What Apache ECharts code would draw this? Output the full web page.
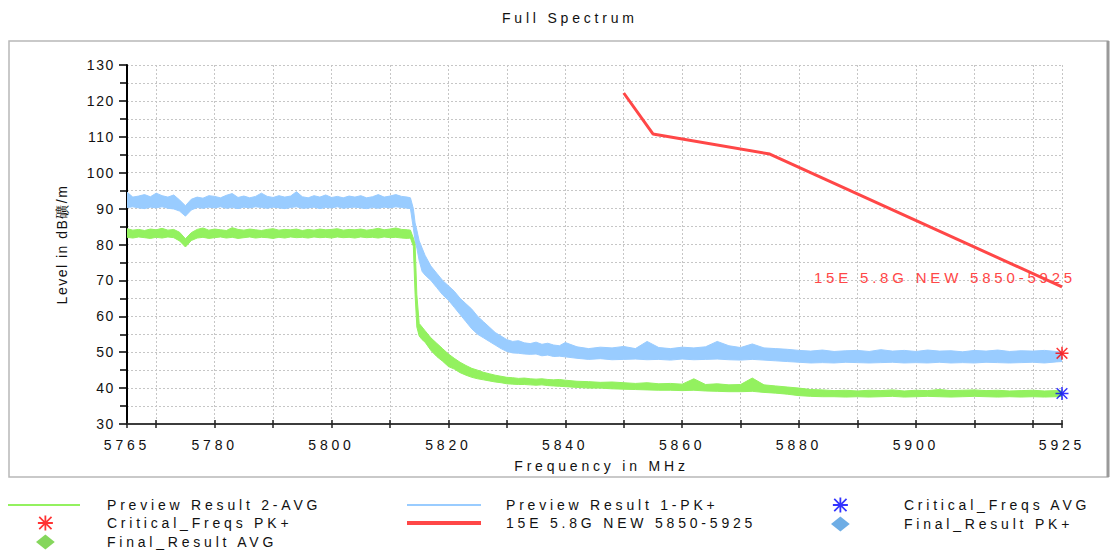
<!DOCTYPE html>
<html>
<head>
<meta charset="utf-8">
<script src="https://cdn.jsdelivr.net/npm/echarts@6/dist/echarts.min.js"></script>
<style>
  html, body { margin: 0; padding: 0; background: #fff; }
  #chart { width: 1110px; height: 554px; }
  #chart text[style*="Arial"] { letter-spacing: 3.8px; }
  #chart text[style*="Helvetica"] { letter-spacing: 1.6px; }
  #chart text[style*="sans-serif"] { letter-spacing: 1.5px; }
</style>
</head>
<body>
<div id="chart"></div>
<script>
// ---------- data ----------
const freqMHz = [
  5765,5766,5767,5768,5769,5770,5771,5772,5773,5774,5775,5776,5777,5778,5779,5780,5781,5782,5783,5784,
  5785,5786,5787,5788,5789,5790,5791,5792,5793,5794,5795,5796,5797,5798,5799,5800,5801,5802,5803,5804,
  5805,5806,5807,5808,5809,5810,5811,5812,5813,
  5813.5,5814,5814.3,5814.6,5815,5815.5,
  5816,5817,5818,5819,5820,5821,5822,5823,5824,5825,5826,5827,5828,5829,5830,5831,5832,5833,5834,5835,
  5836,5837,5838,5839,5840,
  5842,5844,5846,5848,5850,5852,5854,5856,5858,5860,5862,5864,5866,5868,5870,5872,5874,5876,5878,5880,
  5882,5884,5886,5888,5890,5892,5894,5896,5898,5900,5902,5904,5906,5908,5910,5912,5914,5916,5918,5920,
  5922,5924,5925
];

// Preview Result 1-PK+ : upper / lower edge of the trace band (dB)
const pkUpper = [
  94.6,93.2,93.5,93.9,93.3,94.3,93.6,93.2,93.8,92.4,90.8,92.6,93.2,92.9,93.6,93.4,93.0,93.7,94.2,93.1,
  93.5,93.0,93.4,94.3,93.4,93.1,93.6,93.2,93.5,94.7,93.3,93.0,93.6,93.2,93.8,93.1,93.4,93.0,93.5,93.2,
  93.6,93.0,93.3,93.9,93.2,93.5,93.9,93.4,93.2,
  93.0,90.0,86.0,84.0,81.0,79.0,
  77.0,74.0,72.0,70.0,68.5,67.0,65.0,63.5,62.0,60.0,58.5,57.0,55.5,54.5,53.5,53.0,53.2,52.6,52.4,52.8,
  52.2,52.5,52.0,51.8,52.7,
  51.5,51.0,51.4,51.2,51.6,51.0,53.0,51.3,51.0,51.4,51.2,51.5,53.0,51.8,51.3,52.3,51.2,51.0,50.8,50.5,
  50.3,50.6,50.2,50.4,50.5,50.2,50.7,50.3,50.5,50.2,50.6,50.3,50.4,50.1,50.5,50.3,50.6,50.2,50.4,50.3,
  50.5,50.2,50.0
];
const pkLower = [
  90.3,90.5,90.2,90.0,90.4,90.2,90.5,90.1,89.9,89.3,87.9,89.6,90.3,90.1,90.4,90.2,90.5,90.1,90.3,90.0,
  90.4,90.2,90.5,90.3,90.1,90.4,90.2,90.0,90.3,90.5,90.1,90.2,90.4,90.0,90.3,90.2,90.5,90.1,90.3,90.4,
  90.2,90.0,90.3,90.1,90.4,90.2,90.5,90.3,90.1,
  90.0,84.5,81.0,79.0,75.5,72.5,
  71.5,70.0,68.0,66.0,64.5,62.5,60.5,58.5,56.5,55.0,54.0,53.0,52.0,51.0,50.2,49.8,49.7,49.5,49.4,49.5,
  49.0,49.2,48.8,48.9,48.7,
  48.3,48.0,48.2,47.9,48.0,48.1,47.9,48.0,47.8,48.1,47.9,48.0,48.1,47.9,47.8,48.0,47.8,47.6,47.4,47.2,
  47.0,47.1,47.0,47.2,47.1,47.0,47.1,47.2,47.0,47.1,47.0,47.2,47.0,47.1,47.0,47.2,47.1,47.0,47.1,47.2,
  47.0,47.3,47.4
];

// Preview Result 2-AVG : upper / lower edge of the trace band (dB)
const avgUpper = [
  84.4,84.0,84.2,83.9,84.3,84.1,84.5,84.0,84.2,83.4,81.6,83.3,84.2,84.6,84.0,84.3,84.1,83.9,84.7,84.2,
  84.0,84.3,84.1,83.9,84.2,84.4,84.0,84.2,84.1,84.3,83.9,84.2,84.0,84.3,84.1,84.2,84.4,84.0,84.2,84.1,
  84.3,84.0,84.2,84.5,84.1,84.3,84.6,84.2,84.1,
  84.0,81.8,80.0,66.0,58.0,57.0,
  56.0,54.0,52.5,51.0,49.5,48.3,47.2,46.3,45.5,45.0,44.4,44.0,43.6,43.3,43.0,42.9,42.7,42.8,42.6,42.5,
  42.6,42.4,42.3,42.4,42.2,
  41.9,41.8,41.6,41.7,41.5,41.3,41.5,41.2,41.3,41.1,42.6,41.0,41.2,40.9,41.0,42.8,40.9,40.6,40.3,40.0,
  39.6,39.5,39.3,39.4,39.2,39.4,39.3,39.5,39.2,39.4,39.3,39.6,39.3,39.4,39.5,39.3,39.4,39.2,39.3,39.4,
  39.2,39.3,39.2
];
const avgLower = [
  82.0,81.8,82.1,81.9,81.7,82.0,81.8,82.1,81.9,81.0,79.3,81.1,81.8,82.0,81.7,81.9,82.1,81.8,82.0,81.7,
  81.9,82.1,81.8,82.0,81.9,81.7,82.0,81.8,82.1,81.9,82.0,81.8,82.1,81.9,82.0,81.8,82.1,81.9,82.0,81.8,
  82.1,81.9,82.0,81.8,82.1,81.9,82.0,81.8,81.7,
  81.8,79.5,66.0,57.0,54.5,53.5,
  52.8,50.5,48.8,47.5,46.0,45.3,44.3,43.6,43.0,42.6,42.3,42.0,41.7,41.5,41.2,41.1,41.0,41.0,40.9,40.8,
  40.9,40.7,40.6,40.5,40.4,
  40.2,40.0,40.0,39.8,39.7,39.6,39.5,39.4,39.4,39.3,39.4,39.2,39.1,39.0,39.0,39.1,38.8,38.6,38.3,37.9,
  37.7,37.6,37.6,37.5,37.6,37.5,37.6,37.7,37.5,37.6,37.7,37.6,37.5,37.6,37.7,37.6,37.5,37.6,37.5,37.6,
  37.5,37.6,37.7
];

// 15E 5.8G NEW 5850-5925 limit line
const limitFreq = [5850, 5855, 5875, 5925];
const limitLevel = [122.2, 110.8, 105.2, 68.2];

// Critical frequencies
const critPkFreq = [5925];
const critPkLevel = [49.7];
const critAvgFreq = [5925];
const critAvgLevel = [38.5];

// axis ticks / labels
const xTickValues = [5765,5770,5780,5790,5800,5810,5820,5830,5840,5850,5860,5870,5880,5890,5900,5910,5920,5925];
const xLabelValues = [5765,5780,5800,5820,5840,5860,5880,5900,5925];

const N_PK = 'Preview Result 1-PK+';
const N_AVG = 'Preview Result 2-AVG';
const N_LIM = '15E 5.8G NEW 5850-5925';
const N_CAVG = 'Critical_Freqs AVG';
const N_CPK = 'Critical_Freqs PK+';
const N_FPK = 'Final_Result PK+';
const N_FAVG = 'Final_Result AVG';

// ---------- styling ----------
const FONT_A = "Arial, 'Liberation Sans'";
const FONT_Y = "Helvetica, 'Liberation Sans'";
const FONT_N = "'Liberation Sans', sans-serif";
const C_PK = '#99CCFF';
const C_AVG = '#93F15F';
const C_LIM = '#FF4747';
const ASTER = 'path://M4.4 0H5.6V10H4.4Z M0 4.4H10V5.6H0Z M1.3 0.5L9.5 8.7L8.7 9.5L0.5 1.3Z M8.7 0.5L9.5 1.3L1.3 9.5L0.5 8.7Z';
const DIAM = 'path://M10 0L20 8L10 16L0 8Z';

function bandSeries(name, upper, lower, color) {
  return {
    type: 'custom',
    name: name,
    coordinateSystem: 'cartesian2d',
    xAxisIndex: 0,
    data: freqMHz.map((f, i) => [f, upper[i], lower[i]]),
    encode: { x: 0, y: [1, 2] },
    itemStyle: { color: color },
    clip: true,
    silent: true,
    renderItem: function (params, api) {
      if (params.dataIndex !== 0) return;
      const pts = [];
      for (let i = 0; i < freqMHz.length; i++) pts.push(api.coord([freqMHz[i], upper[i]]));
      for (let i = freqMHz.length - 1; i >= 0; i--) pts.push(api.coord([freqMHz[i], lower[i]]));
      return {
        type: 'polygon',
        shape: { points: pts },
        style: { fill: color, stroke: color, lineWidth: 1 }
      };
    }
  };
}

const legendText = { fontSize: 14, fontFamily: FONT_A, color: '#111', lineHeight: 16 };
function legendCol(left, top, itemWidth, itemHeight, gap, pad, data) {
  return {
    orient: 'vertical', left: left, top: top, padding: 0, height: 60,
    itemWidth: itemWidth, itemHeight: itemHeight, itemGap: gap,
    selectedMode: false,
    textStyle: Object.assign({ padding: [0, 0, 0, pad] }, legendText),
    data: data
  };
}

const chart = echarts.init(document.getElementById('chart'), null, { renderer: 'svg' });
chart.setOption({
  animation: false,
  backgroundColor: '#fff',
  title: {
    text: 'Full Spectrum',
    left: 497, top: 6,
    textStyle: { fontSize: 14, fontWeight: 'normal', fontFamily: FONT_A, color: '#111' }
  },
  graphic: [
    { type: 'rect', z: -10, silent: true, shape: { x: 9, y: 41, width: 1099, height: 436 },
      style: { fill: 'none', stroke: '#b8b8b8', lineWidth: 1.5 } },
    { type: 'line', z: -10, silent: true, shape: { x1: 1108, y1: 41, x2: 1108, y2: 477 },
      style: { stroke: '#9a9a9a', lineWidth: 3 } }
  ],
  grid: { left: 127, right: 48, top: 65, bottom: 130, containLabel: false },
  legend: [
    legendCol(8, 497, 72, 16, 2, 22, [{ name: N_AVG, icon: 'path://M0 0H72V2H0Z' }]),
    legendCol(36, 515, 19, 15, 3, 47, [{ name: N_CPK, icon: ASTER }, { name: N_FAVG, icon: DIAM }]),
    legendCol(407, 497, 74, 16, 2, 20, [{ name: N_PK, icon: 'path://M0 0H74V2H0Z' }, { name: N_LIM, icon: 'path://M0 0H74V4H0Z' }]),
    legendCol(831, 497, 19, 15, 3, 49, [{ name: N_CAVG, icon: ASTER }, { name: N_FPK, icon: DIAM }])
  ],
  xAxis: [
    {
      type: 'value', min: 5765, max: 5925, position: 'bottom',
      axisLine: { show: true, onZero: false, lineStyle: { color: '#3c3c3c', width: 2 } },
      axisTick: { show: true, customValues: xTickValues, length: 4, lineStyle: { color: '#222', width: 1.5 } },
      axisLabel: { show: true, customValues: xLabelValues, fontSize: 14, fontFamily: FONT_A, color: '#111', margin: 14,
                   formatter: function (v) { return String(v); } },
      splitLine: { show: true, lineStyle: { color: '#c6c6c6', width: 1, type: [2, 2] } },
      name: 'Frequency in MHz', nameLocation: 'middle', nameGap: 35,
      nameTextStyle: { fontSize: 14, fontFamily: FONT_A, color: '#111', padding: [0, 0, 0, 14] }
    },
    {
      type: 'value', min: 5765, max: 5925, position: 'bottom', offset: 0,
      axisLine: { show: false },
      axisTick: { show: true, inside: true, customValues: xTickValues, length: 4, lineStyle: { color: '#222', width: 1.5 } },
      axisLabel: { show: false },
      splitLine: { show: false }
    }
  ],
  yAxis: {
    type: 'value', min: 30, max: 130, interval: 10,
    axisLine: { show: true, onZero: false, lineStyle: { color: '#000', width: 2 } },
    axisTick: { show: true, length: 8, lineStyle: { color: '#000', width: 1.5 } },
    minorTick: { show: true, splitNumber: 2, length: 7, lineStyle: { color: '#000', width: 1.5 } },
    splitLine: { show: true, lineStyle: { color: '#c6c6c6', width: 1, type: [2, 2] } },
    minorSplitLine: { show: true, lineStyle: { color: '#c6c6c6', width: 1, type: [2, 2] } },
    axisLabel: { fontSize: 14, fontFamily: FONT_Y, color: '#111', margin: 12 },
    name: 'Level in dB礦/m', nameLocation: 'middle', nameGap: 58,
    nameTextStyle: { fontSize: 14, fontFamily: FONT_N, color: '#111' }
  },
  series: [
    bandSeries(N_PK, pkUpper, pkLower, C_PK),
    bandSeries(N_AVG, avgUpper, avgLower, C_AVG),
    {
      type: 'line', name: N_LIM, xAxisIndex: 0,
      data: limitFreq.map((f, i) => [f, limitLevel[i]]),
      showSymbol: false, symbol: 'none', silent: true,
      lineStyle: { color: C_LIM, width: 3 }, itemStyle: { color: C_LIM },
      markPoint: {
        silent: true, symbol: 'circle', symbolSize: 1,
        itemStyle: { color: 'rgba(0,0,0,0)' },
        data: [{
          coord: [limitFreq[limitFreq.length - 1], limitLevel[limitLevel.length - 1]],
          label: { show: true, formatter: N_LIM, position: 'inside', align: 'right', verticalAlign: 'middle',
                   offset: [14, -9], fontSize: 15, fontFamily: FONT_A, color: C_LIM }
        }]
      }
    },
    {
      type: 'scatter', name: N_CPK, xAxisIndex: 0, clip: false, silent: true,
      data: critPkFreq.map((f, i) => [f, critPkLevel[i]]),
      symbol: ASTER, symbolSize: 13, itemStyle: { color: '#FF0000' }
    },
    {
      type: 'scatter', name: N_CAVG, xAxisIndex: 0, clip: false, silent: true,
      data: critAvgFreq.map((f, i) => [f, critAvgLevel[i]]),
      symbol: ASTER, symbolSize: 13, itemStyle: { color: '#0000FF' }
    },
    { type: 'scatter', name: N_FPK, xAxisIndex: 0, data: [], symbol: DIAM, itemStyle: { color: '#4A98DE' } },
    { type: 'scatter', name: N_FAVG, xAxisIndex: 0, data: [], symbol: DIAM, itemStyle: { color: '#66CC33' } }
  ]
});
</script>
</body>
</html>
